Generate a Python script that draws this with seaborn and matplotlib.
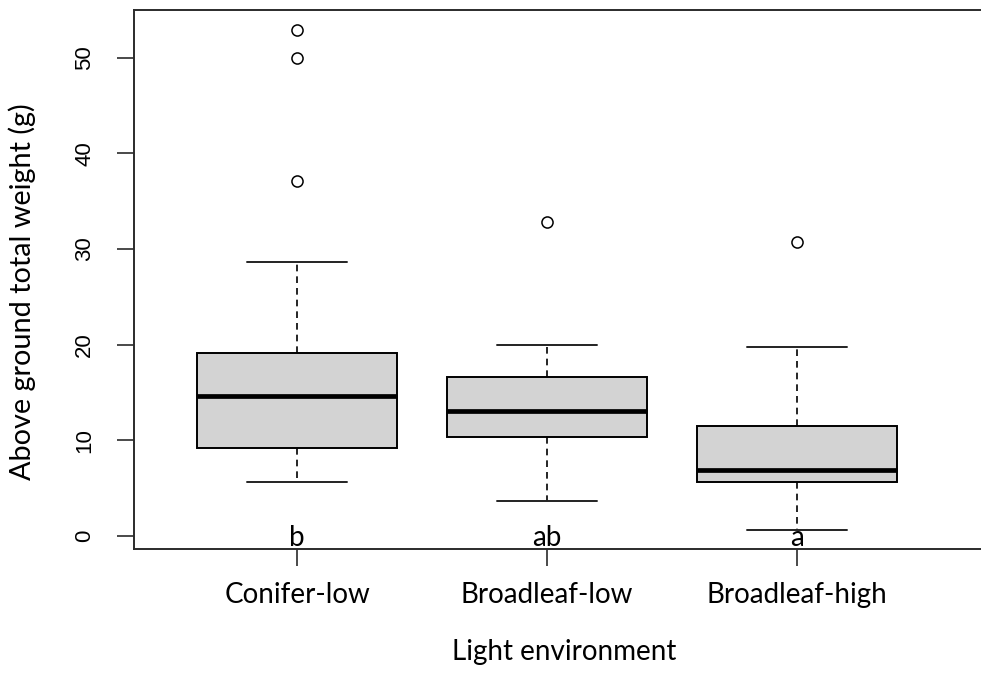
import matplotlib
matplotlib.use("Agg")
import matplotlib.pyplot as plt
import numpy as np
import pandas as pd
import seaborn as sns

# Five-number summaries of above-ground weight (g) per light environment
groups = ["Conifer-low", "Broadleaf-low", "Broadleaf-high"]
whisker_low = [5.65, 3.66, 0.63]
q1 = [9.17, 10.30, 5.68]
median = [14.68, 13.07, 6.94]
q3 = [19.14, 16.60, 11.47]
whisker_high = [28.6, 19.95, 19.77]

# Observations beyond 1.5 x IQR
outlier_group = ["Conifer-low", "Conifer-low", "Conifer-low", "Broadleaf-low", "Broadleaf-high"]
outlier_value = [52.9, 50.0, 37.1, 32.8, 30.7]

# Significance letters from post-hoc comparisons
letters = ["b", "ab", "a"]

y_ticks = [0, 10, 20, 30, 40, 50]

sns.set_theme(style="white")
plt.rcParams["font.family"] = ["Lato", "DejaVu Sans"]
plt.rcParams["text.color"] = "black"

label_font = "Lato"
label_size = 20
frame_color = "#2b2b2b"

fig = plt.figure(figsize=(9.81, 6.80), dpi=100)
ax = fig.add_axes([134 / 981, 131 / 680, 860 / 981, 539 / 680])

stats = [
    dict(label=g, whislo=lo, q1=a, med=m, q3=b, whishi=hi, fliers=[])
    for g, lo, a, m, b, hi in zip(groups, whisker_low, q1, median, q3, whisker_high)
]
positions = list(range(len(groups)))
ax.bxp(
    stats,
    positions=positions,
    widths=0.8,
    capwidths=0.4,
    patch_artist=True,
    showfliers=False,
    boxprops=dict(facecolor="#d3d3d3", edgecolor="black", linewidth=1.4),
    medianprops=dict(color="black", linewidth=3.4, solid_capstyle="butt"),
    whiskerprops=dict(color="black", linewidth=1.2, linestyle=(0, (4, 3))),
    capprops=dict(color="#222222", linewidth=1.4),
)

outliers = pd.DataFrame({"group": outlier_group, "value": outlier_value})
sns.stripplot(
    data=outliers, x="group", y="value", order=groups, jitter=False,
    color="white", edgecolor="black", linewidth=1.1, size=8, ax=ax, zorder=3,
)

for pos, letter in zip(positions, letters):
    ax.text(pos, 0, letter, ha="center", va="center_baseline", fontsize=label_size,
            family=label_font, color="black")

ax.set_xlim(-0.652, 2.788)
ax.set_ylim(-1.36, 55.0)

ax.set_xticks(positions)
ax.set_xticklabels(groups, fontsize=label_size, family=label_font, color="black")
ax.set_yticks(y_ticks)
ax.set_yticklabels([str(t) for t in y_ticks], rotation=90, va="center",
                   family="Liberation Sans", color="black")

ax.tick_params(axis="both", which="major", length=12, width=1.2,
               color=frame_color, left=True, bottom=True)
ax.tick_params(axis="y", pad=16, labelsize=16)
ax.tick_params(axis="x", pad=12)

ax.set_xlabel("Light environment", fontsize=label_size, family=label_font, color="black")
ax.set_ylabel("Above ground total weight (g)", fontsize=20.8, family=label_font,
              color="black")
ax.xaxis.set_label_coords(0.5, (549 - 652) / 539)
ax.xaxis.label.set_va("center")
ax.yaxis.set_label_coords((22 - 134) / 860, (549 - 292) / 539)
ax.yaxis.label.set_va("center")

for side in ["left", "right", "top", "bottom"]:
    ax.spines[side].set_visible(True)
    ax.spines[side].set_color(frame_color)
    ax.spines[side].set_linewidth(1.4)
ax.grid(False)
ax.set_facecolor("white")
fig.patch.set_facecolor("white")

fig.savefig("out.png", dpi=100)
